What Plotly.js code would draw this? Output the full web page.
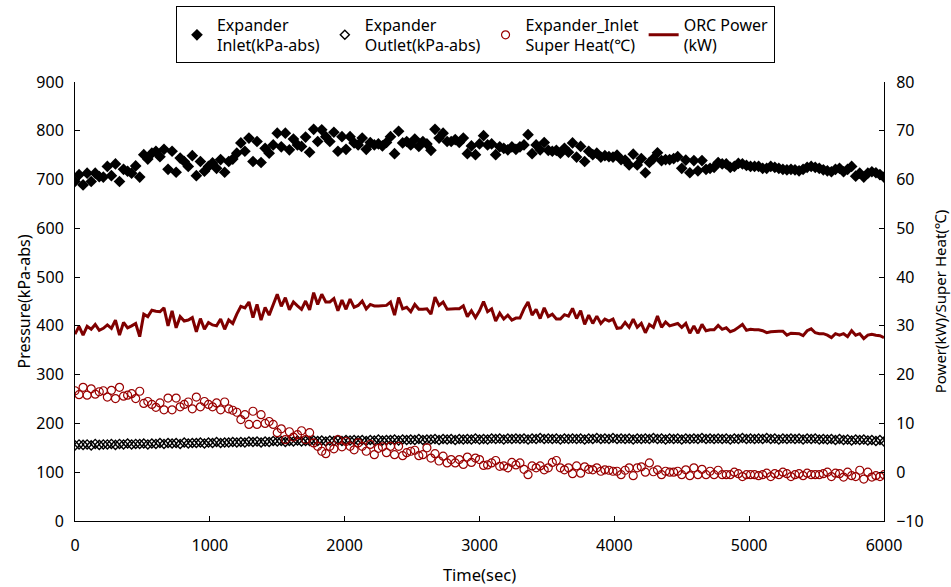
<!DOCTYPE html>
<html>
<head>
<meta charset="utf-8">
<script src="https://cdn.plot.ly/plotly-3.0.1.min.js"></script>
<style>html,body{margin:0;padding:0;background:#fff}#chart{width:951px;height:587px}</style>
</head>
<body>
<div id="chart"></div>
<script>
const timeSec = [
0,30,60,90,120,150,180,210,240,270,
300,330,360,390,420,450,480,510,540,570,
600,630,660,690,720,750,780,810,840,870,
900,930,960,990,1020,1050,1080,1110,1140,1170,
1200,1230,1260,1290,1320,1350,1380,1410,1440,1470,
1500,1530,1560,1590,1620,1650,1680,1710,1740,1770,
1800,1830,1860,1890,1920,1950,1980,2010,2040,2070,
2100,2130,2160,2190,2220,2250,2280,2310,2340,2370,
2400,2430,2460,2490,2520,2550,2580,2610,2640,2670,
2700,2730,2760,2790,2820,2850,2880,2910,2940,2970,
3000,3030,3060,3090,3120,3150,3180,3210,3240,3270,
3300,3330,3360,3390,3420,3450,3480,3510,3540,3570,
3600,3630,3660,3690,3720,3750,3780,3810,3840,3870,
3900,3930,3960,3990,4020,4050,4080,4110,4140,4170,
4200,4230,4260,4290,4320,4350,4380,4410,4440,4470,
4500,4530,4560,4590,4620,4650,4680,4710,4740,4770,
4800,4830,4860,4890,4920,4950,4980,5010,5040,5070,
5100,5130,5160,5190,5220,5250,5280,5310,5340,5370,
5400,5430,5460,5490,5520,5550,5580,5610,5640,5670,
5700,5730,5760,5790,5820,5850,5880,5910,5940,5970,
6000];

const inletKPa = [
696,710,689,713,696,713,706,705,727,708,
732,696,721,717,713,728,705,751,742,754,
758,747,762,721,758,715,744,737,727,749,
708,737,717,727,734,723,741,715,737,742,
754,775,758,785,737,778,735,764,754,771,
795,767,795,761,783,771,768,787,756,803,
778,802,788,778,797,758,788,762,788,775,
771,785,762,776,771,773,769,776,788,753,
799,775,778,771,783,768,778,773,760,803,
785,795,778,778,782,776,785,753,769,751,
773,790,771,773,751,767,764,761,767,762,
767,771,792,753,771,761,776,760,758,760,
754,764,756,775,746,768,737,758,751,754,
746,749,747,746,750,741,740,730,752,730,
743,714,735,743,755,739,741,741,743,747,
723,740,714,739,718,739,721,723,725,735,
732,732,725,727,733,732,729,727,727,727,
723,723,727,725,723,721,720,721,720,718,
721,725,727,725,723,720,718,716,721,723,
716,721,727,707,713,705,713,716,714,710,
705];

const outletKPa = [
155,157,156,157,155,158,156,157,157,158,
156,158,157,159,157,158,158,159,157,159,
158,160,158,160,159,160,158,161,159,160,
160,161,159,161,160,162,160,161,161,162,
161,162,161,163,162,163,161,163,162,164,
163,164,162,164,163,165,163,164,164,165,
164,165,163,165,164,166,164,166,165,166,
165,166,164,166,165,167,165,166,166,167,
165,167,166,167,166,168,166,167,167,168,
166,168,167,168,166,168,167,168,167,169,
167,168,167,169,168,169,167,169,168,169,
168,169,167,169,168,170,168,169,168,169,
167,169,168,169,168,169,167,169,168,170,
168,169,168,170,168,169,168,169,167,169,
168,169,168,170,168,169,167,169,168,169,
167,169,168,169,168,170,168,169,168,169,
168,169,167,169,168,170,168,169,168,169,
168,170,168,169,167,169,168,169,168,169,
167,169,168,169,167,168,167,168,166,168,
166,167,165,167,166,167,165,166,164,166,
163];

const superHeatC = [
16.7,15.9,17.4,15.8,17.1,16.0,16.5,16.7,15.4,16.8,
15.1,17.4,15.6,15.8,16.1,15.1,16.6,14.1,14.5,13.9,
13.3,14.2,12.8,15.2,12.8,15.2,13.4,13.9,14.4,13.0,
15.4,13.4,14.5,13.9,13.4,14.2,12.8,14.4,13.0,12.7,
12.3,10.8,11.8,9.8,12.5,9.8,11.8,10.0,10.4,9.8,
8.1,8.9,6.7,8.3,7.2,7.7,8.5,6.7,8.1,6.0,
5.3,4.3,3.8,5.3,4.8,6.7,5.2,6.3,5.3,4.6,
6.0,5.3,4.3,5.7,3.6,4.9,5.2,4.0,5.3,3.6,
5.3,3.4,4.0,4.3,4.5,3.4,3.6,5.0,2.9,3.8,
2.3,3.3,1.9,2.6,1.9,2.6,1.6,3.1,2.0,2.9,
2.6,1.4,1.5,1.9,2.4,1.2,1.3,0.9,2.0,1.5,
1.9,0.6,-0.5,1.3,0.9,1.3,0.5,0.9,2.0,2.4,
0.9,0.5,0.9,-0.3,1.3,-0.2,1.1,0.6,0.5,0.9,
0.2,0.5,0.4,0.2,0.2,-0.5,0.4,0.9,-0.7,0.9,
1.1,0.0,1.9,0.1,0.5,-0.5,0.2,0.0,0.0,0.2,
-0.5,0.5,-0.7,0.9,-0.5,0.6,-0.5,0.2,-0.5,0.4,
-0.5,-0.5,-0.5,0.0,-0.3,-0.9,-0.5,-0.5,-0.5,-0.7,
-0.5,-0.2,-0.9,-0.3,-0.5,0.0,-0.3,-0.9,-0.5,-0.3,
-0.7,-0.2,-0.5,-0.5,-0.5,-0.3,0.0,-0.9,-0.2,-0.3,
-1.0,0.0,-0.7,-0.9,0.4,-1.4,0.0,-1.0,-0.7,-0.9,
-0.5];

const orcPowerKW = [
28.3,29.9,28.1,29.9,29.3,30.3,29.1,29.5,30.2,29.5,
31.2,28.1,30.7,29.6,30.0,30.5,27.8,32.4,31.9,33.2,
33.0,32.9,33.7,30.0,33.1,29.6,31.9,31.0,31.2,31.7,
28.8,31.5,29.3,30.7,30.2,30.0,31.4,29.3,31.2,30.5,
32.4,34.0,33.7,34.9,31.7,34.4,31.2,33.8,32.2,34.2,
36.5,34.0,35.8,33.3,34.9,34.1,33.4,35.1,33.3,36.8,
34.4,36.5,34.9,34.9,35.6,33.1,35.3,33.4,35.5,33.8,
34.2,35.1,33.5,34.4,34.1,34.1,34.1,34.2,34.9,32.2,
35.8,33.5,33.8,32.9,34.4,33.4,33.4,33.5,32.4,35.9,
34.2,34.9,33.4,33.5,33.5,33.5,34.1,31.9,33.1,31.7,
33.1,35.0,32.9,33.5,31.0,32.6,31.4,32.2,31.2,31.6,
31.6,33.5,34.9,32.2,33.4,31.5,33.7,31.9,32.4,31.4,
31.4,32.3,32.0,33.6,31.5,33.1,30.3,32.2,30.5,32.0,
30.5,31.4,31.0,31.4,29.5,29.6,30.7,29.7,31.4,29.7,
30.5,28.6,30.3,29.7,32.0,29.7,30.8,30.0,30.3,30.5,
29.7,30.5,28.5,30.0,28.5,30.3,29.0,29.2,29.2,30.1,
29.3,29.6,28.8,29.1,29.7,30.3,29.1,29.3,29.2,29.2,
29.0,28.6,28.8,28.9,28.9,28.9,28.1,28.5,28.5,28.4,
28.0,29.0,29.4,28.6,28.4,28.4,28.1,27.6,28.4,28.1,
28.4,27.8,29.0,28.1,28.4,27.4,28.1,28.3,28.1,28.0,
27.6];

const seriesNames = [
  'Expander<br>Inlet(kPa-abs)',
  'Expander<br>Outlet(kPa-abs)',
  'Expander_Inlet<br>Super Heat(℃)',
  'ORC Power<br>(kW)'
];

const FONT = '"Noto Sans", "Open Sans", sans-serif';

const traces = [
  {
    x: timeSec, y: inletKPa, name: seriesNames[0], type: 'scatter', mode: 'markers',
    marker: {symbol: 'diamond', size: 9, color: '#000000'}, yaxis: 'y'
  },
  {
    x: timeSec, y: outletKPa, name: seriesNames[1], type: 'scatter', mode: 'markers',
    marker: {symbol: 'diamond-open', size: 7, color: '#000000', line: {width: 1.4, color: '#000000'}}, yaxis: 'y'
  },
  {
    x: timeSec, y: superHeatC, name: seriesNames[2], type: 'scatter', mode: 'markers',
    marker: {symbol: 'circle-open', size: 8, color: '#9a0000', line: {width: 1.2, color: '#9a0000'}}, yaxis: 'y2'
  },
  {
    x: timeSec, y: orcPowerKW, name: seriesNames[3], type: 'scatter', mode: 'lines',
    line: {color: '#7f0000', width: 3}, yaxis: 'y2'
  }
];

const layout = {
  width: 951, height: 587,
  margin: {l: 75, r: 67, t: 82, b: 66, autoexpand: false},
  paper_bgcolor: '#ffffff', plot_bgcolor: '#ffffff',
  font: {family: FONT, color: '#000000', size: 15},
  showlegend: true,
  legend: {
    orientation: 'h', x: 0.495, xanchor: 'center', y: 1.172, yanchor: 'top',
    bordercolor: '#000000', borderwidth: 1, font: {size: 16, family: FONT},
    itemwidth: 30, tracegroupgap: 0
  },
  xaxis: {
    range: [0, 6000], dtick: 1000, tick0: 0,
    showline: true, linecolor: '#000000', linewidth: 1,
    ticks: 'inside', ticklen: 5, tickcolor: '#000000',
    showgrid: false, zeroline: false,
    ticklabelstandoff: 10,
    tickfont: {size: 16, family: FONT},
    title: {text: 'Time(sec)', font: {size: 16.5, family: FONT}, standoff: 14}
  },
  yaxis: {
    range: [0, 900], dtick: 100, tick0: 0,
    showline: true, linecolor: '#000000', linewidth: 1,
    ticks: 'inside', ticklen: 5, tickcolor: '#000000',
    showgrid: false, zeroline: false,
    ticklabelstandoff: 7,
    tickfont: {size: 16, family: FONT},
    title: {text: 'Pressure(kPa-abs)', font: {size: 16, family: FONT}, standoff: 1}
  },
  yaxis2: {
    range: [-10, 80], dtick: 10, tick0: 0,
    overlaying: 'y', side: 'right', anchor: 'x',
    showline: true, linecolor: '#000000', linewidth: 1,
    ticks: 'inside', ticklen: 5, tickcolor: '#000000',
    showgrid: false, zeroline: false,
    ticklabelstandoff: 8,
    tickfont: {size: 16, family: FONT},
    title: {text: 'Power(kW)/Super Heat(℃)', font: {size: 15, family: FONT}, standoff: 12}
  }
};

Plotly.newPlot('chart', traces, layout, {staticPlot: true, displayModeBar: false});
</script>
</body>
</html>
